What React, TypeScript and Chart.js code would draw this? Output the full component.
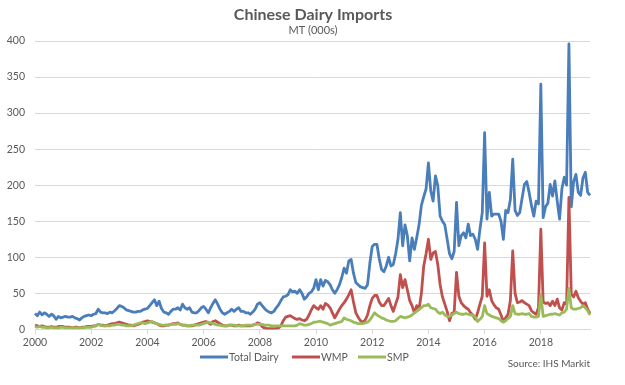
import React, { useEffect, useRef } from "react";
import { Chart, registerables } from "chart.js";

Chart.register(...registerables);

const FONT = "Lato, 'Open Sans', sans-serif";
const TEXT_COLOR = "#595959";

const TITLE = "Chinese Dairy Imports";
const SUBTITLE = "MT (000s)";
const SOURCE = "Source: IHS Markit";

const START_YEAR = 2000;
const tickYears = ["2000", "2002", "2004", "2006", "2008", "2010", "2012", "2014", "2016", "2018"];
const yTicks = [0, 50, 100, 150, 200, 250, 300, 350, 400];

const seriesNames = ["Total Dairy", "WMP", "SMP"];
const seriesColors = ["#4a7ebb", "#c0504d", "#9bbb59"];

// Monthly values, Jan 2000 .. Oct 2019 (one row per year)
const totalDairy = [
  22, 19, 24, 20, 23, 21, 18, 21, 19, 14, 18, 16,
  17, 18, 17, 17, 18, 16, 15, 13, 16, 18, 19, 20,
  19, 21, 22, 28, 24, 23, 23, 22, 24, 23, 26, 29,
  33, 32, 30, 27, 26, 25, 24, 24, 25, 25, 27, 28,
  29, 33, 37, 41, 33, 39, 29, 24, 23, 21, 25, 28,
  28, 30, 27, 35, 30, 28, 30, 24, 23, 23, 26, 30,
  32, 28, 23, 30, 36, 41, 35, 28, 23, 21, 23, 25,
  28, 25, 28, 30, 25, 25, 23, 23, 21, 24, 28, 35,
  37, 33, 29, 26, 24, 23, 25, 30, 34, 40, 45, 46,
  48, 55, 52, 53, 50, 55, 50, 42, 45, 50, 52, 57,
  69, 55, 69, 60, 68, 66, 62, 55, 50, 55, 62, 72,
  85, 78, 95, 97, 78, 65, 62, 59, 58, 57, 62, 92,
  115, 118, 118, 98, 83, 80, 88, 100, 88, 90, 105, 125,
  162, 116, 145, 130, 95, 127, 111, 127, 145, 172, 184, 195,
  231, 192, 178, 213, 199, 157, 150, 145, 125, 105, 98, 108,
  176, 116, 130, 134, 127, 146, 130, 132, 125, 111, 139, 162,
  273, 153, 190, 157, 160, 160, 160, 150, 125, 165, 162, 180,
  236, 165, 158, 162, 182, 201, 205, 190, 172, 157, 178, 174,
  340, 155, 170, 175, 201, 185, 206, 178, 153, 195, 211, 200,
  396, 170, 205, 215, 190, 186, 210, 218, 190, 186,
];

const wmp = [
  6, 5, 4, 5, 4, 3, 3, 4, 3, 3, 4, 4,
  4, 3, 3, 3, 2, 3, 3, 2, 3, 3, 4, 4,
  4, 5, 5, 7, 6, 6, 5, 6, 7, 8, 8, 9,
  10, 9, 8, 7, 6, 6, 5, 6, 7, 8, 10, 11,
  12, 11, 10, 9, 8, 6, 5, 5, 6, 6, 7, 8,
  8, 9, 7, 6, 6, 5, 5, 5, 6, 7, 8, 9,
  10, 11, 9, 7, 11, 12, 10, 8, 6, 5, 5, 6,
  6, 5, 5, 6, 5, 5, 5, 5, 5, 6, 7, 9,
  8, 4, 2, 1, 1, 1, 1, 1, 2, 5, 12, 17,
  18, 19, 17, 15, 14, 15, 13, 12, 14, 20, 27, 33,
  30, 28, 33, 28, 36, 34, 30, 23, 16, 22, 28, 33,
  37, 42, 48, 55, 38, 23, 17, 12, 10, 13, 20, 33,
  43, 47, 47, 38, 33, 33, 38, 43, 33, 25, 35, 45,
  76, 58, 69, 55, 40, 33, 23, 33, 28, 50, 88, 105,
  125, 97, 106, 108, 90, 62, 45, 35, 25, 12, 22, 24,
  79, 46, 37, 33, 30, 28, 23, 20, 14, 23, 35, 46,
  120, 46, 55, 40, 34, 30, 28, 20, 11, 16, 21, 40,
  109, 50, 37, 38, 40, 37, 35, 33, 26, 23, 21, 30,
  139, 38, 36, 37, 33, 39, 33, 42, 30, 27, 37, 35,
  183, 49, 45, 53, 44, 39, 35, 37, 28, 22,
];

const smp = [
  4, 3, 4, 3, 3, 2, 2, 3, 2, 2, 2, 3,
  3, 2, 2, 2, 2, 2, 2, 2, 2, 3, 3, 3,
  3, 4, 5, 7, 6, 5, 5, 5, 5, 6, 6, 7,
  7, 6, 6, 5, 5, 5, 6, 7, 8, 9, 9, 8,
  9, 10, 11, 9, 8, 7, 6, 6, 6, 6, 7, 7,
  7, 8, 7, 6, 6, 5, 5, 6, 6, 6, 6, 7,
  8, 9, 10, 9, 8, 7, 6, 6, 5, 5, 5, 6,
  6, 6, 5, 5, 5, 5, 6, 6, 6, 6, 7, 7,
  7, 7, 6, 6, 6, 5, 5, 5, 5, 5, 5, 5,
  5, 5, 5, 5, 6, 8, 7, 6, 6, 7, 8, 10,
  10, 11, 11, 10, 9, 8, 6, 7, 8, 9, 10, 11,
  16, 14, 13, 12, 10, 9, 8, 8, 8, 9, 10, 13,
  18, 23, 20, 18, 16, 15, 13, 12, 11, 11, 12, 15,
  18, 17, 16, 17, 18, 20, 23, 25, 28, 30, 33, 33,
  35, 30, 29, 28, 24, 22, 24, 20, 18, 18, 20, 22,
  24, 22, 21, 21, 22, 21, 20, 20, 17, 11, 14, 18,
  33, 22, 20, 18, 17, 16, 15, 12, 10, 12, 15, 18,
  33, 22, 21, 21, 22, 21, 21, 22, 18, 17, 17, 18,
  48, 18, 19, 20, 21, 21, 22, 21, 20, 23, 24, 28,
  57, 30, 28, 28, 29, 30, 33, 30, 26, 20,
];

const months: string[] = totalDairy.map((_, i) => {
  const y = START_YEAR + Math.floor(i / 12);
  const m = (i % 12) + 1;
  return `${y}-${m < 10 ? "0" + m : m}`;
});

const legendItems = [
  { name: seriesNames[0], color: seriesColors[0], x: 200 },
  { name: seriesNames[1], color: seriesColors[1], x: 292 },
  { name: seriesNames[2], color: seriesColors[2], x: 358 },
];

const textPlugin = {
  id: "extraTexts",
  afterDraw(chart: any) {
    const ctx = chart.ctx as CanvasRenderingContext2D;
    ctx.save();
    ctx.fillStyle = TEXT_COLOR;
    ctx.textAlign = "center";
    ctx.textBaseline = "middle";
    ctx.font = `bold 16px ${FONT}`;
    ctx.fillText(TITLE, 313, 15);
    ctx.font = `11px ${FONT}`;
    ctx.fillText(SUBTITLE, 313, 30);

    // legend
    const ly = 357;
    ctx.textAlign = "left";
    ctx.font = `10.5px ${FONT}`;
    legendItems.forEach((it) => {
      ctx.strokeStyle = it.color;
      ctx.lineWidth = 3;
      ctx.beginPath();
      ctx.moveTo(it.x, ly);
      ctx.lineTo(it.x + 28, ly);
      ctx.stroke();
      ctx.fillStyle = TEXT_COLOR;
      ctx.fillText(it.name, it.x + 29, ly + 1);
    });

    ctx.textAlign = "right";
    ctx.font = `10px ${FONT}`;
    ctx.fillText(SOURCE, 590, 364);
    ctx.restore();
  },
};

export default function App() {
  const ref = useRef<HTMLCanvasElement | null>(null);

  useEffect(() => {
    if (!ref.current) return;
    const mk = (i: number, data: number[], order: number) => ({
      label: seriesNames[i],
      data,
      borderColor: seriesColors[i],
      backgroundColor: seriesColors[i],
      borderWidth: 2.8,
      pointRadius: 0,
      tension: 0,
      borderJoinStyle: "round" as const,
      fill: false,
      order,
    });
    const chart = new Chart(ref.current, {
      type: "line",
      data: {
        labels: months,
        datasets: [mk(0, totalDairy, 2), mk(1, wmp, 1), mk(2, smp, 0)],
      },
      plugins: [textPlugin],
      options: {
        responsive: false,
        animation: false,
        events: [],
        layout: { padding: { left: 0, right: 35, top: 41, bottom: 34 } },
        plugins: {
          legend: { display: false },
          title: { display: false },
          tooltip: { enabled: false },
        },
        scales: {
          x: {
            type: "category",
            offset: false,
            grid: {
              display: true,
              drawOnChartArea: false,
              drawTicks: true,
              tickLength: 5,
              color: "#d9d9d9",
            },
            border: { display: true, color: "#d9d9d9", width: 1 },
            ticks: {
              autoSkip: false,
              maxRotation: 0,
              minRotation: 0,
              padding: 2,
              color: TEXT_COLOR,
              font: { family: FONT, size: 10.5 },
              callback: (_v: any, index: number) => {
                const lab = months[index];
                if (lab && lab.endsWith("-01") && tickYears.includes(lab.slice(0, 4))) {
                  return lab.slice(0, 4);
                }
                return null;
              },
            },
          },
          y: {
            min: yTicks[0],
            max: yTicks[yTicks.length - 1],
            afterFit: (s: any) => {
              s.width = 35;
            },
            afterBuildTicks: (s: any) => {
              s.ticks = yTicks.map((v) => ({ value: v }));
            },
            grid: { color: "#d9d9d9", drawTicks: false, lineWidth: 1 },
            border: { display: false },
            ticks: {
              padding: 10,
              color: TEXT_COLOR,
              font: { family: FONT, size: 10.5 },
            },
          },
        },
      },
    });
    return () => chart.destroy();
  }, []);

  return (
    <div style={{ position: "fixed", left: 0, top: 0, width: 625, height: 385, background: "#fff" }}>
      <canvas ref={ref} width={625} height={385} style={{ display: "block", width: 625, height: 385 }} />
    </div>
  );
}
